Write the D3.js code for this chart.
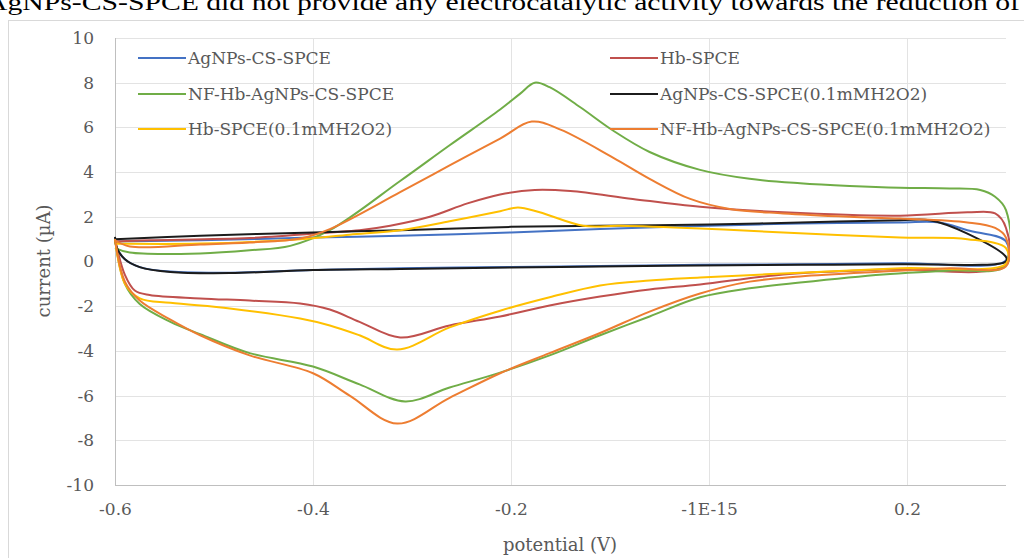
<!DOCTYPE html>
<html>
<head>
<meta charset="utf-8">
<script src="https://cdn.jsdelivr.net/npm/d3@7"></script>
<style>
  body { margin: 0; background: #fff; }
  svg { display: block; }
</style>
</head>
<body>
<div id="graph"></div>
<script>
var width = 1024, height = 558

// series: [potential (V), current (µA)], forward sweep then back
var agnps = [[-0.6,0.9],[-0.514,0.95],[-0.4,1.07],[-0.312,1.15],[-0.2,1.3],[-0.11,1.45],[0,1.6],[0.092,1.7],[0.193,1.75],[0.233,1.75],[0.261,1.4],[0.3,0.9],
  [0.3,0.05],[0.193,-0.08],[0.092,-0.12],[-0.009,-0.15],[-0.11,-0.2],[-0.2,-0.25],[-0.312,-0.3],[-0.4,-0.38],[-0.484,-0.5],[-0.544,-0.45],[-0.575,-0.25],[-0.59,0.1],[-0.598,0.6],[-0.6,0.95]]
var hb = [[-0.6,0.9],[-0.565,0.95],[-0.464,1.05],[-0.383,1.3],[-0.353,1.4],[-0.322,1.6],[-0.282,2.0],[-0.244,2.6],[-0.211,3.0],[-0.176,3.2],[-0.14,3.15],[-0.077,2.8],[-0.009,2.45],[0.075,2.2],[0.193,2.05],[0.261,2.2],[0.289,2.15],[0.3,1.5],
  [0.3,-0.13],[0.176,-0.36],[0.075,-0.58],[-0.009,-1.03],[-0.06,-1.25],[-0.11,-1.57],[-0.161,-1.97],[-0.211,-2.46],[-0.262,-2.86],[-0.312,-3.4],[-0.353,-2.7],[-0.383,-2.15],[-0.413,-1.88],[-0.464,-1.75],[-0.514,-1.65],[-0.565,-1.5],[-0.58,-1.3],[-0.59,-0.6],[-0.6,1.0]]
var nfhb = [[-0.6,0.6],[-0.585,0.4],[-0.514,0.36],[-0.464,0.5],[-0.423,0.7],[-0.383,1.4],[-0.312,3.6],[-0.262,5.2],[-0.211,6.8],[-0.191,7.5],[-0.176,8.0],[-0.161,7.8],[-0.13,6.9],[-0.097,5.86],[-0.06,4.9],[-0.009,4.1],[0.041,3.7],[0.092,3.5],[0.142,3.38],[0.193,3.3],[0.243,3.27],[0.274,3.2],[0.289,2.9],[0.3,2.3],
  [0.3,-0.18],[0.243,-0.4],[0.176,-0.58],[0.092,-0.94],[0.041,-1.2],[-0.009,-1.6],[-0.06,-2.46],[-0.11,-3.3],[-0.161,-4.2],[-0.211,-4.97],[-0.262,-5.64],[-0.307,-6.26],[-0.353,-5.5],[-0.4,-4.7],[-0.464,-4.1],[-0.514,-3.25],[-0.544,-2.7],[-0.575,-1.9],[-0.59,-1.0],[-0.6,1.0]]
var agnpsH2O2 = [[-0.6,1.0],[-0.514,1.15],[-0.4,1.3],[-0.312,1.4],[-0.2,1.55],[-0.11,1.6],[0,1.65],[0.092,1.75],[0.193,1.85],[0.223,1.85],[0.261,1.25],[0.3,0.2],
  [0.3,0.0],[0.193,-0.12],[0.092,-0.15],[-0.009,-0.18],[-0.11,-0.22],[-0.2,-0.27],[-0.312,-0.33],[-0.4,-0.38],[-0.484,-0.52],[-0.544,-0.47],[-0.575,-0.25],[-0.59,0.1],[-0.598,0.6],[-0.6,1.1]]
var hbH2O2 = [[-0.6,0.8],[-0.514,0.8],[-0.413,1.0],[-0.363,1.2],[-0.312,1.4],[-0.262,1.8],[-0.211,2.25],[-0.193,2.42],[-0.171,2.2],[-0.127,1.6],[-0.09,1.6],[-0.009,1.48],[0.075,1.3],[0.193,1.07],[0.261,1.0],[0.3,0.6],
  [0.3,-0.1],[0.193,-0.3],[0.092,-0.5],[-0.009,-0.72],[-0.06,-0.85],[-0.11,-1.07],[-0.161,-1.6],[-0.211,-2.2],[-0.262,-2.95],[-0.315,-3.94],[-0.353,-3.3],[-0.383,-2.86],[-0.413,-2.55],[-0.484,-2.1],[-0.544,-1.85],[-0.575,-1.65],[-0.59,-1.0],[-0.6,1.0]]
var nfhbH2O2 = [[-0.6,0.95],[-0.585,0.67],[-0.514,0.76],[-0.464,0.85],[-0.413,1.03],[-0.383,1.45],[-0.312,3.1],[-0.262,4.3],[-0.211,5.5],[-0.179,6.26],[-0.15,5.9],[-0.097,4.65],[-0.06,3.7],[-0.019,2.8],[0.021,2.35],[0.075,2.15],[0.142,2.0],[0.193,1.92],[0.261,1.75],[0.289,1.5],[0.3,1.07],
  [0.3,-0.22],[0.243,-0.3],[0.176,-0.45],[0.092,-0.67],[0.041,-0.9],[-0.009,-1.43],[-0.06,-2.24],[-0.11,-3.2],[-0.161,-4.1],[-0.211,-5.0],[-0.262,-6.1],[-0.315,-7.25],[-0.363,-6.0],[-0.4,-5.0],[-0.464,-4.2],[-0.514,-3.3],[-0.544,-2.6],[-0.575,-1.75],[-0.59,-0.9],[-0.6,1.0]]

var seriesNames = ['AgNPs-CS-SPCE', 'Hb-SPCE', 'NF-Hb-AgNPs-CS-SPCE', 'AgNPs-CS-SPCE(0.1mMH2O2)', 'Hb-SPCE(0.1mMH2O2)', 'NF-Hb-AgNPs-CS-SPCE(0.1mMH2O2)']
var seriesData = [agnps, hb, nfhb, agnpsH2O2, hbH2O2, nfhbH2O2]
var colors = ['#4472c4', '#c0504d', '#70ad47', '#1c1c1c', '#ffc000', '#ed7d31']

var xTicks = [-0.6, -0.4, -0.2, 0, 0.2]
var xTickLabels = ['-0.6', '-0.4', '-0.2', '-1E-15', '0.2']
var yTicks = [-10, -8, -6, -4, -2, 0, 2, 4, 6, 8, 10]

var x = d3.scaleLinear().domain([-0.6, 0.3]).range([115, 1006])
var y = d3.scaleLinear().domain([-10, 10]).range([485, 38])

var svg = d3.select('#graph').append('svg')
    .attr('width', width).attr('height', height)

svg.append('rect').attr('width', width).attr('height', height).attr('fill', '#fff')

// cropped sentence from the page above the figure
svg.append('text')
    .attr('x', -14).attr('y', 10)
    .attr('textLength', 1034).attr('lengthAdjust', 'spacingAndGlyphs')
    .style('font-family', '"Liberation Serif", serif').style('font-size', '24px')
    .attr('fill', '#000')
    .text('AgNPs-CS-SPCE did not provide any electrocatalytic activity towards the reduction of')

// chart frame
svg.append('rect')
    .attr('x', 8.5).attr('y', 20.5).attr('width', 1040).attr('height', 560)
    .attr('fill', '#fff').attr('stroke', '#d9d9d9')

var font = '"DejaVu Serif", serif'

// gridlines
svg.append('g')
  .selectAll('line').data(yTicks).join('line')
    .attr('x1', x.range()[0]).attr('x2', x.range()[1])
    .attr('y1', function(d){ return Math.round(y(d)) + 0.5 })
    .attr('y2', function(d){ return Math.round(y(d)) + 0.5 })
    .attr('stroke', function(d){ return d == -10 ? '#bfbfbf' : '#e3e3e3' })
svg.append('g')
  .selectAll('line').data(xTicks).join('line')
    .attr('x1', function(d){ return Math.round(x(d)) + 0.5 })
    .attr('x2', function(d){ return Math.round(x(d)) + 0.5 })
    .attr('y1', y.range()[1]).attr('y2', y.range()[0])
    .attr('stroke', function(d){ return d == -0.6 ? '#bfbfbf' : '#e3e3e3' })

// axes (labels only)
var yAxis = svg.append('g')
    .attr('transform', 'translate(115,0)')
    .call(d3.axisLeft(y).tickValues(yTicks).tickSize(0).tickPadding(21)
      .tickFormat(function(d){ return String(d) }))
yAxis.select('.domain').remove()
yAxis.selectAll('text').style('font-family', font).style('font-size', '17px').attr('fill', '#595959')

var xAxis = svg.append('g')
    .attr('transform', 'translate(0,485)')
    .call(d3.axisBottom(x).tickValues(xTicks).tickSize(0).tickPadding(18)
      .tickFormat(function(d, i){ return xTickLabels[i] }))
xAxis.select('.domain').remove()
xAxis.selectAll('text').style('font-family', font).style('font-size', '17px').attr('fill', '#595959')

svg.append('text')
    .attr('transform', 'translate(50,261) rotate(-90)')
    .attr('text-anchor', 'middle')
    .style('font-family', font).style('font-size', '18px').attr('fill', '#595959')
    .text('current (µA)')
svg.append('text')
    .attr('x', 560).attr('y', 551)
    .attr('text-anchor', 'middle')
    .style('font-family', font).style('font-size', '18px').attr('fill', '#595959')
    .text('potential (V)')

// curves
svg.append('clipPath').attr('id', 'plot')
  .append('rect').attr('x', 112).attr('y', 30).attr('width', 898).attr('height', 460)

var line = d3.line()
    .x(function(d){ return x(d[0]) })
    .y(function(d){ return y(d[1]) })
    .curve(d3.curveCatmullRom.alpha(0.5))

svg.append('g').attr('clip-path', 'url(#plot)')
  .selectAll('path').data(seriesData).join('path')
    .attr('d', line)
    .attr('fill', 'none')
    .attr('stroke', function(d, i){ return colors[i] })
    .attr('stroke-width', 2)

// legend, two columns
var legendCols = [138, 610], legendRows = [58, 94, 129]
var legend = svg.append('g')
  .selectAll('g').data(seriesNames).join('g')
    .attr('transform', function(d, i){ return 'translate(' + legendCols[i % 2] + ',' + legendRows[Math.floor(i / 2)] + ')' })
legend.append('line')
    .attr('x1', 0).attr('x2', 48)
    .attr('stroke', function(d, i){ return colors[i] })
    .attr('stroke-width', 2)
legend.append('text')
    .attr('x', 50).attr('dy', '0.35em')
    .style('font-family', font).style('font-size', '17px').attr('fill', '#595959')
    .text(function(d){ return d })
</script>
</body>
</html>
